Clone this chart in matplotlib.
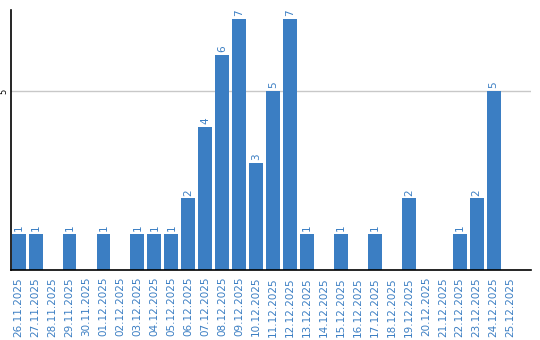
import numpy as np
import matplotlib.pyplot as plt

# Daily counts
dates = ['26.11.2025', '27.11.2025', '28.11.2025', '29.11.2025', '30.11.2025',
         '01.12.2025', '02.12.2025', '03.12.2025', '04.12.2025', '05.12.2025',
         '06.12.2025', '07.12.2025', '08.12.2025', '09.12.2025', '10.12.2025',
         '11.12.2025', '12.12.2025', '13.12.2025', '14.12.2025', '15.12.2025',
         '16.12.2025', '17.12.2025', '18.12.2025', '19.12.2025', '20.12.2025',
         '21.12.2025', '22.12.2025', '23.12.2025', '24.12.2025', '25.12.2025']
counts = [1, 1, 0, 1, 0,
          1, 0, 1, 1, 1,
          2, 4, 6, 7, 3,
          5, 7, 1, 0, 1,
          0, 1, 0, 2, 0,
          0, 1, 2, 5, 0]

blue = '#3b7ec3'

fig = plt.figure(figsize=(5.4, 3.4), dpi=100)
ax = fig.add_axes([11/540, 70/340, 520/540, 260/340])

x = np.arange(len(dates))
ax.bar(x, counts, width=0.82, color=blue, zorder=2)

# value labels above bars
for xi, c in zip(x, counts):
    if c > 0:
        ax.text(xi, c + 0.08, str(c), rotation=90, ha='center', va='bottom',
                fontsize=7.5, color=blue)

ax.set_xlim(-0.45, 30.2)
ax.set_ylim(0, 7.26)
ax.set_yticks([5])
ax.set_yticklabels(['5'], rotation=90, fontsize=6, va='center')
ax.yaxis.grid(True, color='#c8c8c8', linewidth=1, zorder=0)
ax.tick_params(axis='y', length=0, pad=2)

ax.set_xticks(x)
ax.set_xticklabels(dates, rotation=90, fontsize=7.5, color=blue)
ax.tick_params(axis='x', length=0, pad=5)

for side in ['top', 'right']:
    ax.spines[side].set_visible(False)
ax.spines['left'].set_linewidth(1.2)
ax.spines['bottom'].set_linewidth(1.2)

fig.savefig('out.png', dpi=100)
